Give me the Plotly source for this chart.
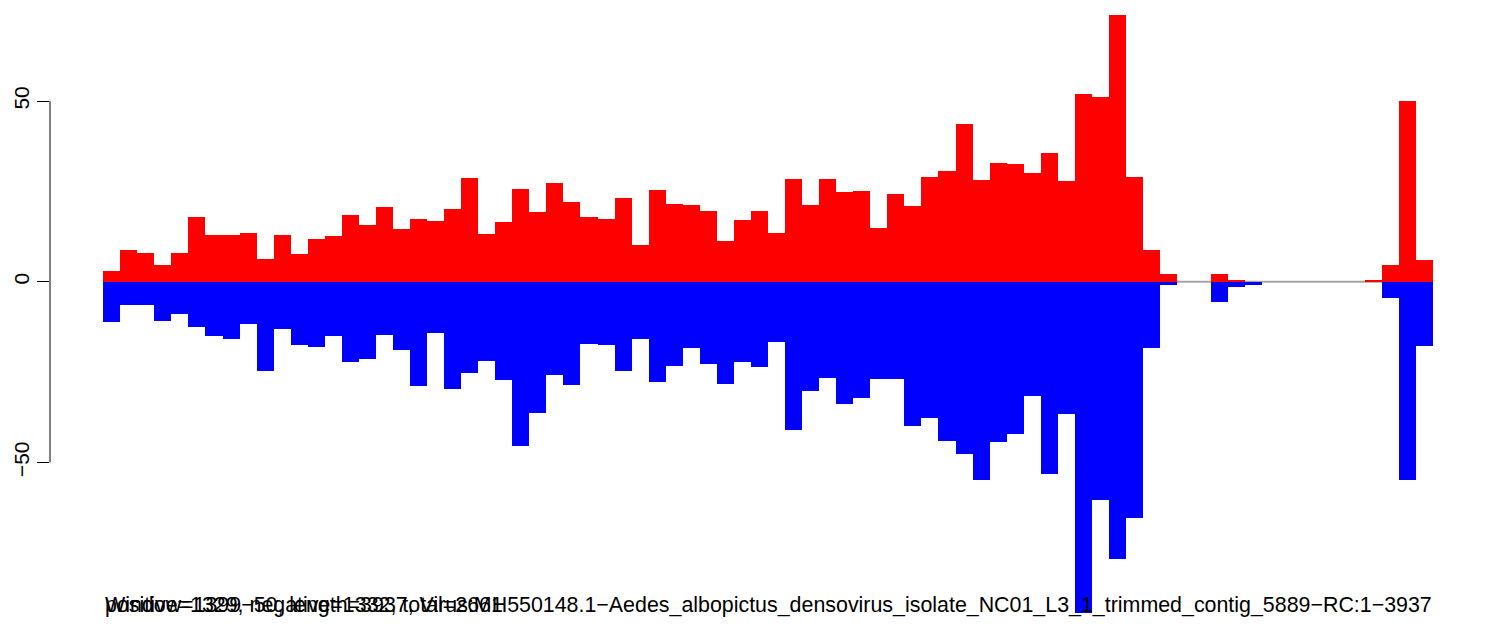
import plotly.graph_objects as go

# window index (one bar per 50 bp window)
windows = list(range(78))

# reads on the positive strand per window
positive = [3, 8.8, 8, 4.6, 8, 18, 13, 13, 13.5, 6.3,
            13, 7.7, 11.8, 12.6, 18.5, 15.7, 20.7, 14.6, 17.4, 16.8,
            20.1, 28.7, 13.2, 16.5, 25.6, 19.3, 27.3, 22, 17.9, 17.4,
            23.2, 10.2, 25.4, 21.5, 21.2, 19.6, 11.3, 17.1, 19.6, 13.5,
            28.4, 21.2, 28.4, 24.9, 25.1, 14.9, 24.3, 20.9, 29, 30.6,
            43.6, 28.2, 32.8, 32.6, 30.1, 35.7, 27.9, 52, 51.2, 73.8,
            29, 8.8, 2.1, 0, 0, 2.1, 0.5, 0, 0, 0,
            0, 0, 0, 0, 0.3, 4.6, 50, 6]

# reads on the negative strand per window (plotted downwards)
negative = [-11.1, -6.5, -6.5, -10.8, -8.9, -12.5, -15, -15.8, -11.7, -24.7,
            -13.1, -17.5, -18, -15, -22.2, -21.4, -14.8, -18.9, -28.9, -14.2,
            -29.7, -25.3, -22, -27.2, -45.5, -36.3, -25.8, -28.6, -17.2, -17.5,
            -24.7, -15.9, -27.8, -23.3, -18.4, -22.8, -28.3, -22.2, -23.6, -16.7,
            -41, -30.2, -26.7, -33.8, -32.2, -26.9, -26.9, -39.9, -37.7, -44,
            -47.6, -54.8, -44.3, -42.1, -31.6, -53.1, -36.6, -91.6, -60.3, -76.6,
            -65.5, -18.2, -0.8, 0, 0, -5.5, -1.4, -0.9, 0, 0,
            0, 0, 0, 0, 0, -4.4, -54.8, -17.7]

tick_vals = [-50, 0, 50]
tick_text = ['\u221250', '0', '50']

stats_label = 'positive=1329, negative=1332, total=2661'
title_label = ('Window=1399\u221250, length=3937, Virus:MH550148.1\u2212Aedes_albopictus_'
               'densovirus_isolate_NC01_L3_1_trimmed_contig_5889\u2212RC:1\u22123937')

left_edge = windows[0] - 0.5
right_edge = windows[-1] + 0.5
pad = 0.04 * (right_edge - left_edge)

fig = go.Figure()

fig.add_trace(go.Bar(x=windows, y=positive, marker=dict(color='#FF0000', line=dict(width=0)),
                     width=1.0, showlegend=False))
fig.add_trace(go.Bar(x=windows, y=negative, marker=dict(color='#0000FF', line=dict(width=0)),
                     width=1.0, showlegend=False))

# grey baseline under the bars
fig.add_shape(type='line', xref='x', yref='y', x0=left_edge, x1=right_edge, y0=0, y1=0,
              line=dict(color='#A6A6A6', width=2), layer='below')

# R style axis line only between the outer ticks
fig.add_shape(type='line', xref='paper', yref='y', x0=0, x1=0,
              y0=min(tick_vals), y1=max(tick_vals), line=dict(color='black', width=1))

label_font = dict(family='Liberation Sans, Arial, sans-serif', size=21.4, color='black')
fig.add_annotation(x=left_edge, xref='x', y=0.03, yref='paper', text=title_label,
                   showarrow=False, xanchor='left', yanchor='middle', font=label_font)
fig.add_annotation(x=left_edge, xref='x', y=0.03, yref='paper', text=stats_label,
                   showarrow=False, xanchor='left', yanchor='middle', font=label_font)

fig.update_layout(
    width=1489,
    height=624,
    margin=dict(l=50, r=3, t=0, b=0),
    plot_bgcolor='white',
    paper_bgcolor='white',
    barmode='overlay',
    bargap=0,
    xaxis=dict(visible=False, range=[left_edge - pad, right_edge + pad]),
    yaxis=dict(
        range=[-94.7, 77.97],
        showgrid=False,
        zeroline=False,
        showline=False,
        ticks='outside',
        ticklen=12,
        tickwidth=1,
        tickcolor='black',
        tickvals=tick_vals,
        ticktext=tick_text,
        tickangle=-90,
        tickfont=dict(family='Liberation Sans, Arial, sans-serif', size=21, color='black'),
        ticklabelstandoff=0,
        automargin=False,
    ),
)

# drop the default 8px page margin so the figure sits at the window corner
fig.write_html('out.html', config={'displayModeBar': False},
               post_script="document.body.style.margin='0px';")
